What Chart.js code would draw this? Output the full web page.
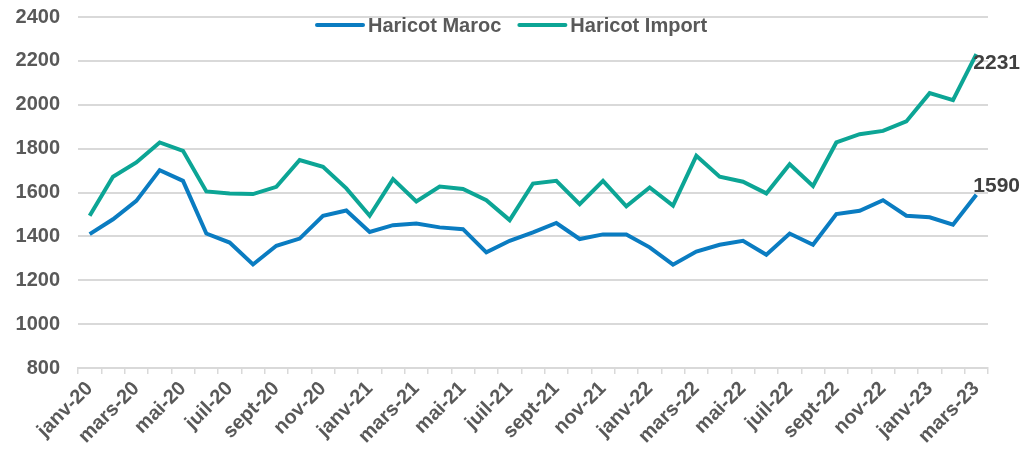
<!DOCTYPE html>
<html>
<head>
<meta charset="utf-8">
<script src="https://cdn.jsdelivr.net/npm/chart.js@4"></script>
<style>
  html, body { margin: 0; padding: 0; background: #fff; }
  #wrap { width: 1028px; height: 455px; }
</style>
</head>
<body>
<div id="wrap"><canvas id="myChart" width="1028" height="455"></canvas></div>
<script>
const months = [
  'janv-20','févr-20','mars-20','avr-20','mai-20','juin-20','juil-20','août-20','sept-20','oct-20','nov-20','déc-20',
  'janv-21','févr-21','mars-21','avr-21','mai-21','juin-21','juil-21','août-21','sept-21','oct-21','nov-21','déc-21',
  'janv-22','févr-22','mars-22','avr-22','mai-22','juin-22','juil-22','août-22','sept-22','oct-22','nov-22','déc-22',
  'janv-23','févr-23','mars-23'
]

const haricotMaroc = [
  1410, 1478, 1562, 1702, 1653, 1413, 1372, 1272, 1357, 1390, 1494, 1518,
  1420, 1451, 1459, 1441, 1433, 1327, 1380, 1418, 1461, 1388, 1409, 1409,
  1350, 1271, 1331, 1362, 1380, 1316, 1413, 1362, 1502, 1517, 1565, 1494,
  1487, 1453, 1590
]

const haricotImport = [
  1494, 1672, 1737, 1828, 1790, 1605, 1596, 1593, 1626, 1748, 1717, 1619,
  1494, 1661, 1559, 1627, 1616, 1565, 1474, 1641, 1653, 1547, 1653, 1537,
  1623, 1540, 1767, 1672, 1649, 1596, 1729, 1630, 1828, 1866, 1881, 1924,
  2053, 2021, 2231
]

const yTicks = [800, 1000, 1200, 1400, 1600, 1800, 2000, 2200, 2400]

const FONT = "'Liberation Sans', Arial, sans-serif"
const GREY = '#595959'
const GRID = '#d9d9d9'

// legend drawn on top of the plot like the excel one
const topLegend = {
  id: 'topLegend',
  afterDraw(chart) {
    const c = chart.ctx
    c.save()
    c.font = 'bold 20px ' + FONT
    c.textBaseline = 'middle'
    const y = 25
    let x = 315
    chart.data.datasets.forEach(ds => {
      c.strokeStyle = ds.borderColor
      c.lineWidth = 4
      c.lineCap = 'round'
      c.beginPath()
      c.moveTo(x + 2, y)
      c.lineTo(x + 48, y)
      c.stroke()
      c.fillStyle = GREY
      c.fillText(ds.label, x + 53, y + 1)
      x += 53 + c.measureText(ds.label).width + 16
    })
    c.restore()
  }
}

// value label on the last point of each line
const lastLabel = {
  id: 'lastLabel',
  afterDatasetsDraw(chart, args, opts) {
    const c = chart.ctx
    c.save()
    c.font = 'bold 21px ' + FONT
    c.fillStyle = '#404040'
    c.textBaseline = 'middle'
    chart.data.datasets.forEach((ds, i) => {
      const meta = chart.getDatasetMeta(i)
      const pt = meta.data[meta.data.length - 1]
      const off = opts.offsets[i]
      c.fillText(String(ds.data[ds.data.length - 1]), pt.x + off[0], pt.y + off[1])
    })
    c.restore()
  }
}

const ctx = document.getElementById('myChart')
const config = {
  type: 'line',
  data: {
    labels: months,
    datasets: [
      {
        label: 'Haricot Maroc',
        data: haricotMaroc,
        borderColor: '#0a7cc1',
        backgroundColor: '#0a7cc1',
        borderWidth: 4,
        pointRadius: 0,
        tension: 0
      },
      {
        label: 'Haricot Import',
        data: haricotImport,
        borderColor: '#0ca595',
        backgroundColor: '#0ca595',
        borderWidth: 4,
        pointRadius: 0,
        tension: 0
      }
    ]
  },
  options: {
    responsive: false,
    animation: false,
    layout: { padding: { top: 17, right: 40, left: 0, bottom: 0 } },
    plugins: {
      legend: { display: false },
      tooltip: { enabled: false },
      lastLabel: { offsets: [[-3, -8], [-3, 9]] }
    },
    scales: {
      x: {
        offset: true,
        grid: {
          offset: true,
          drawOnChartArea: false,
          drawTicks: true,
          tickLength: 6,
          color: GRID,
          lineWidth: 1.5
        },
        border: { color: GRID, width: 2 },
        ticks: {
          autoSkip: false,
          maxRotation: 45,
          minRotation: 45,
          padding: 3,
          color: GREY,
          font: { family: FONT, size: 20, weight: 'bold' },
          callback: function(v, i) { return i % 2 === 0 ? months[i] : '' }
        },
        afterFit(scale) { scale.height = 87 }
      },
      y: {
        min: yTicks[0],
        max: yTicks[yTicks.length - 1],
        afterBuildTicks(scale) { scale.ticks = yTicks.map(v => ({ value: v })) },
        grid: { color: GRID, lineWidth: 2, drawTicks: false },
        border: { display: false },
        ticks: {
          padding: 18,
          color: GREY,
          font: { family: FONT, size: 20, weight: 'bold' },
          callback: v => String(v)
        },
        afterFit(scale) {
          scale.width = 78
          scale.paddingTop = 0
          scale.paddingBottom = 0
        }
      }
    }
  },
  plugins: [topLegend, lastLabel]
}

new Chart(ctx, config)
</script>
</body>
</html>
